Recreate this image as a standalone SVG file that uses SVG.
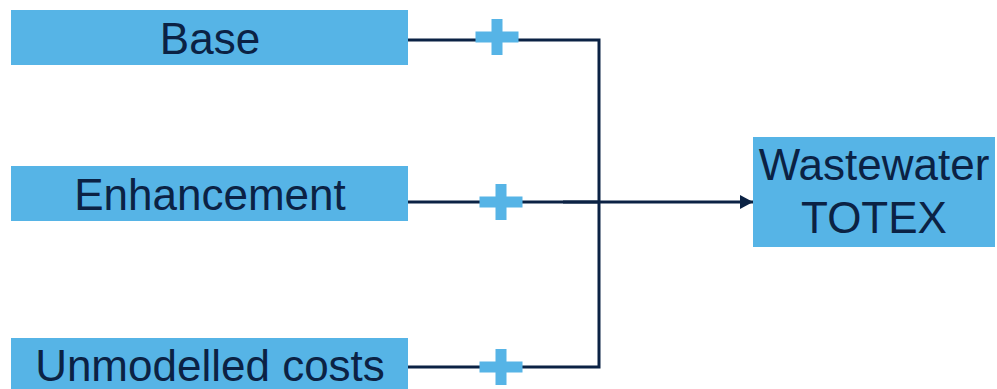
<svg xmlns="http://www.w3.org/2000/svg" width="997" height="389" viewBox="0 0 997 389">
<style>
.box{fill:#56B4E6}
.t{font-family:"Liberation Sans",Arial,sans-serif;font-size:44px;fill:#0B2244;text-anchor:middle}
.ln{stroke:#0B2244;stroke-width:3;fill:none}
.plus{fill:#56B4E6}
</style>
<defs>
<marker id="ah" markerWidth="13" markerHeight="14" refX="13" refY="7" orient="auto" markerUnits="userSpaceOnUse">
<path d="M0,0 L13,7 L0,14 Z" fill="#0B2244"/>
</marker>
<g id="p"><rect x="-21.5" y="-5.5" width="43" height="11"/><rect x="-5.5" y="-18" width="11" height="36"/></g>
</defs>
<g id="connectors">
<path class="ln" d="M408,40 H599 V367 H408"/>
<path class="ln" d="M408,202 H599"/>
<path class="ln" d="M563,202 H753" marker-end="url(#ah)"/>
</g>
<g id="plus-signs" class="plus">
<use href="#p" x="497" y="37"/>
<use href="#p" x="501" y="202"/>
<use href="#p" x="501" y="367"/>
</g>
<g id="base"><rect class="box" x="11" y="10" width="397" height="55"/><text class="t" x="210" y="54">Base</text></g>
<g id="enhancement"><rect class="box" x="11" y="166" width="397" height="55"/><text class="t" x="210" y="210">Enhancement</text></g>
<g id="unmodelled"><rect class="box" x="11" y="338" width="397" height="55"/><text class="t" x="210" y="381">Unmodelled costs</text></g>
<g id="totex"><rect class="box" x="753" y="137" width="242" height="110"/><text class="t" x="874" y="180">Wastewater</text><text class="t" x="874" y="233">TOTEX</text></g>
</svg>
